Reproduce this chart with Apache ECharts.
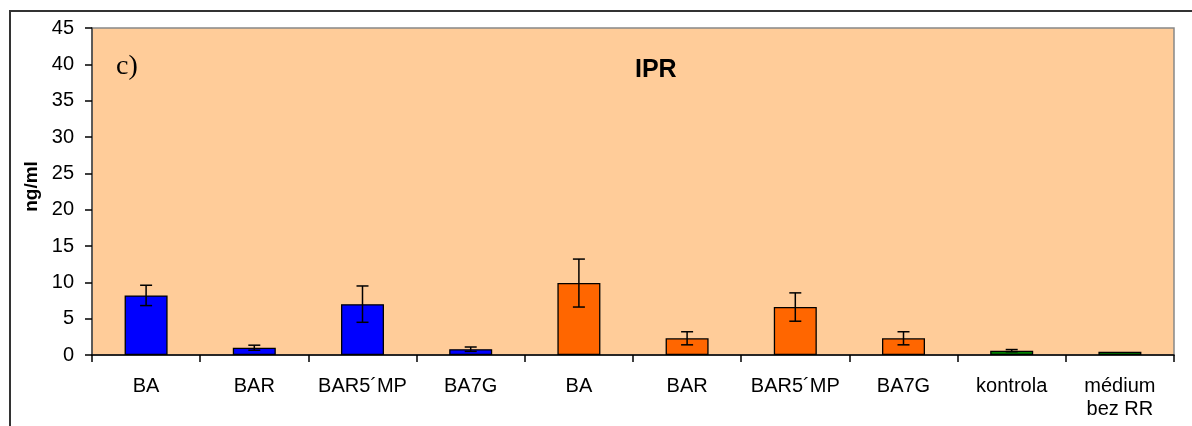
<!DOCTYPE html>
<html>
<head>
<meta charset="utf-8">
<script src="https://cdn.jsdelivr.net/npm/echarts@6/dist/echarts.min.js"></script>
<style>html,body{margin:0;padding:0;background:#fff}#c{width:1192px;height:426px}</style>
</head>
<body>
<div id="c"></div>
<script>
const categories = ['BA', 'BAR', 'BAR5´MP', 'BA7G', 'BA', 'BAR', 'BAR5´MP', 'BA7G', 'kontrola', 'médium\nbez RR'];
const blueValues   = [8.2, 1.0, 7.0, 0.8, '-', '-', '-', '-', '-', '-'];
const orangeValues = ['-', '-', '-', '-', 9.9, 2.3, 6.6, 2.3, '-', '-'];
const greenValues  = ['-', '-', '-', '-', '-', '-', '-', '-', 0.6, 0.45];
const allValues    = [8.2, 1.0, 7.0, 0.8, 9.9, 2.3, 6.6, 2.3, 0.6, 0.45];
const errors       = [1.4, 0.35, 2.5, 0.3, 3.3, 0.9, 1.95, 0.9, 0.15, 0];
const yTicks = [0, 5, 10, 15, 20, 25, 30, 35, 40, 45];

const chart = echarts.init(document.getElementById('c'), null, {renderer: 'canvas'});
const barStyle = {borderColor: '#000', borderWidth: 1.3};
const errData = allValues.map((v, i) => [i, v - errors[i], v + errors[i]]);

chart.setOption({
  animation: false,
  backgroundColor: '#fff',
  textStyle: {fontFamily: 'Liberation Sans, Arial, sans-serif'},
  title: {
    text: 'IPR', left: 630, top: 53,
    textStyle: {fontSize: 25, fontWeight: 'bold', color: '#000', fontFamily: 'Liberation Sans, Arial, sans-serif'}
  },
  graphic: [
    {type: 'rect', shape: {x: 10, y: 11, width: 1300, height: 600}, style: {fill: 'none', stroke: '#333', lineWidth: 2}, silent: true},
    {type: 'text', left: 116, top: 53, style: {text: 'c)', font: '28px "Liberation Serif", "Times New Roman", serif', fill: '#000'}, z: 10}
  ],
  grid: {
    left: 92, right: 18, top: 28, bottom: 71,
    show: true, backgroundColor: '#FFCC99', borderColor: '#888', borderWidth: 1.5
  },
  xAxis: {
    type: 'category', data: categories, boundaryGap: true,
    axisLine: {show: true, lineStyle: {color: '#000', width: 1.5}},
    axisTick: {show: true, alignWithLabel: false, length: 7, inside: false, lineStyle: {color: '#000', width: 1.5}},
    axisLabel: {fontSize: 20, color: '#000', margin: 20, lineHeight: 23, interval: 0}
  },
  yAxis: {
    type: 'value', min: yTicks[0], max: yTicks[yTicks.length - 1], interval: 5,
    name: 'ng/ml', nameLocation: 'middle', nameGap: 51,
    nameTextStyle: {fontSize: 19, fontWeight: 'bold', color: '#000', padding: [0, 0, 0, 10]},
    splitLine: {show: false},
    axisLine: {show: true, lineStyle: {color: '#444', width: 1.5}},
    axisTick: {show: true, length: 7, lineStyle: {color: '#000', width: 1.5}},
    axisLabel: {fontSize: 20, color: '#000', margin: 18}
  },
  series: [
    {type: 'bar', data: blueValues, barWidth: 43, barGap: '-100%', itemStyle: Object.assign({color: '#0000FF'}, barStyle)},
    {type: 'bar', data: orangeValues, barWidth: 43, barGap: '-100%', itemStyle: Object.assign({color: '#FF6600'}, barStyle)},
    {type: 'bar', data: greenValues, barWidth: 43, barGap: '-100%', itemStyle: Object.assign({color: '#008000'}, barStyle)},
    {
      type: 'custom', z: 10, data: errData,
      renderItem: function (params, api) {
        const i = api.value(0);
        const lo = api.coord([i, api.value(1)]);
        const hi = api.coord([i, api.value(2)]);
        if (hi[1] === lo[1]) return null;
        const x = lo[0], w = 6;
        const st = {stroke: '#000', lineWidth: 1.5};
        return {type: 'group', children: [
          {type: 'line', shape: {x1: x, y1: lo[1], x2: x, y2: hi[1]}, style: st},
          {type: 'line', shape: {x1: x - w, y1: lo[1], x2: x + w, y2: lo[1]}, style: st},
          {type: 'line', shape: {x1: x - w, y1: hi[1], x2: x + w, y2: hi[1]}, style: st}
        ]};
      }
    }
  ]
});
</script>
</body>
</html>
